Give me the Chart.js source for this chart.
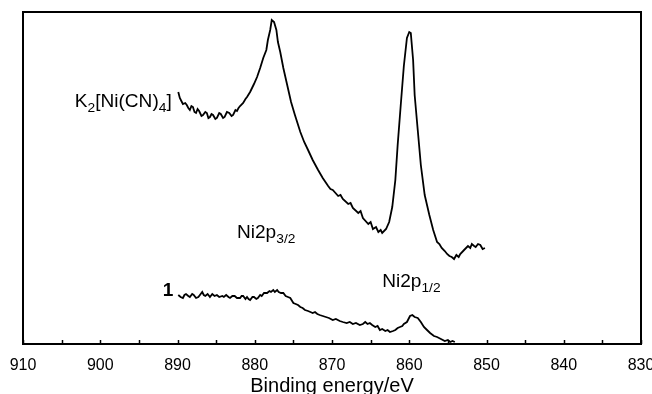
<!DOCTYPE html>
<html>
<head>
<meta charset="utf-8">
<script src="https://cdn.jsdelivr.net/npm/chart.js@4"></script>
<style>
  html, body { margin: 0; padding: 0; background: #fff; overflow: hidden; }
</style>
</head>
<body>
<canvas id="xps" width="652" height="394"></canvas>
<script>
// K2[Ni(CN)4] spectrum (binding energy eV / intensity a.u.)
const complexEnergy = [889.9, 889.7, 889.5, 889.3, 889.0, 888.8, 888.6, 888.4, 888.2, 888.0, 887.8, 887.6, 887.4, 887.2, 886.9, 886.7, 886.4, 886.2, 886.0, 885.8, 885.6, 885.4, 885.1, 884.9, 884.6, 884.4, 884.1, 883.9, 883.6, 883.3, 883.0, 882.8, 882.5, 882.3, 882.1, 881.9, 881.5, 881.2, 881.0, 880.6, 880.1, 879.7, 879.3, 878.9, 878.5, 878.3, 878.0, 877.8, 877.5, 877.2, 877.0, 876.7, 876.3, 875.8, 875.3, 874.8, 874.1, 873.6, 873.1, 872.5, 871.8, 871.5, 871.2, 870.5, 870.2, 869.9, 869.2, 868.9, 868.6, 867.9, 867.6, 867.3, 866.6, 866.3, 866.0, 865.3, 865.0, 864.7, 864.3, 864.0, 863.7, 863.5, 863.0, 862.6, 862.2, 861.8, 861.5, 861.1, 860.7, 860.3, 860.0, 859.8, 859.5, 859.3, 858.9, 858.5, 858.0, 857.4, 856.9, 856.4, 856.1, 855.8, 855.4, 855.1, 854.8, 854.5, 854.2, 853.9, 853.6, 853.4, 852.9, 852.4, 852.1, 851.9, 851.6, 851.4, 851.1, 850.8, 850.5, 850.2];
const complexCounts = [252, 246, 243, 240, 241, 239, 236, 234, 238, 237, 232, 231, 235, 233, 228, 229, 232, 231, 226, 227, 230, 229, 225, 226, 231, 230, 226, 227, 232, 231, 228, 229, 234, 233, 236, 238, 241, 245, 247, 252, 260, 267, 276, 286, 294, 304, 314, 324, 322, 314, 302, 292, 276, 259, 242, 229, 212, 202, 194, 184, 174, 170, 166, 158, 155, 154, 148, 149, 145, 140, 141, 136, 131, 133, 126, 120, 122, 115, 117, 112, 114, 111, 115, 122, 137, 164, 199, 239, 278, 306, 312, 311, 284, 249, 214, 179, 149, 129, 114, 102, 100, 96, 93, 90, 88, 87, 85, 89, 87, 90, 94, 98, 96, 100, 98, 97, 100, 99, 95, 96];

// compound 1 spectrum
const sampleEnergy = [889.9, 889.6, 889.3, 889.1, 888.9, 888.6, 888.4, 888.1, 887.9, 887.6, 887.3, 887.0, 886.8, 886.6, 886.4, 886.1, 885.8, 885.5, 885.2, 884.9, 884.6, 884.2, 884.0, 883.7, 883.4, 883.2, 882.9, 882.6, 882.3, 881.9, 881.7, 881.5, 881.2, 881.0, 880.8, 880.6, 880.3, 880.1, 879.8, 879.6, 879.3, 879.1, 878.8, 878.4, 878.1, 877.9, 877.6, 877.4, 877.1, 876.9, 876.6, 876.3, 876.0, 875.7, 875.4, 875.0, 874.7, 874.4, 874.1, 873.8, 873.5, 873.1, 872.8, 872.5, 872.2, 871.9, 871.6, 871.2, 870.8, 870.4, 869.9, 869.5, 869.0, 868.6, 868.1, 867.7, 867.3, 866.9, 866.4, 866.0, 865.7, 865.4, 865.1, 864.8, 864.4, 864.1, 863.8, 863.5, 863.1, 862.8, 862.5, 862.1, 861.8, 861.5, 861.2, 860.9, 860.7, 860.3, 859.9, 859.6, 859.3, 858.9, 858.5, 858.1, 857.7, 857.3, 856.8, 856.4, 855.9, 855.4, 855.0, 854.7, 854.4, 854.1];
const sampleCounts = [49, 47, 46, 49, 50, 48, 47, 50, 49, 46, 47, 50, 52, 49, 48, 50, 47, 50, 48, 49, 47, 48, 47, 49, 47, 46, 48, 48, 46, 46, 48, 48, 45, 47, 45, 44, 47, 47, 45, 46, 49, 48, 51, 51, 53, 52, 54, 52, 54, 52, 51, 51, 48, 47, 46, 41, 40, 39, 37, 36, 34, 33, 32, 31, 32, 30, 29, 28, 27, 26, 24, 25, 23, 22, 21, 22, 20, 21, 19, 20, 22, 20, 21, 19, 17, 18, 14, 15, 13, 14, 12, 13, 14, 16, 17, 18, 20, 22, 28, 29, 27, 26, 22, 17, 14, 11, 8, 7, 5, 3, 4, 2, 3, 2];

const xTickStep = 5;
const xMin = 830;
const xMax = 910;

// text labels: [pieces], anchor energy, anchor intensity (baseline)
const annotations = [
    { parts: [['K', 0], ['2', 1], ['[Ni(CN)', 0], ['4', 1], [']', 0]], x: 903.3, y: 237, bold: false },
    { parts: [['Ni2p', 0], ['3/2', 1]], x: 882.3, y: 106, bold: false },
    { parts: [['Ni2p', 0], ['1/2', 1]], x: 863.5, y: 57, bold: false },
    { parts: [['1', 0]], x: 891.9, y: 48, bold: true }
];

function toPoints(xs, ys) {
    return xs.map((x, i) => ({ x: x, y: ys[i] }));
}

const framePlugin = {
    id: 'frame',
    afterDraw(chart) {
        const { ctx, chartArea: a, scales } = chart;
        ctx.save();
        ctx.strokeStyle = '#000';
        ctx.lineWidth = 2;
        ctx.strokeRect(a.left, a.top, a.right - a.left, a.bottom - a.top);
        // inward tick marks
        ctx.lineWidth = 1.5;
        scales.x.ticks.forEach(t => {
            const px = Math.round(scales.x.getPixelForValue(t.value)) + 0.5;
            ctx.beginPath();
            ctx.moveTo(px, a.bottom);
            ctx.lineTo(px, a.bottom - 4);
            ctx.stroke();
        });
        // annotations
        ctx.fillStyle = '#000';
        ctx.textBaseline = 'alphabetic';
        annotations.forEach(an => {
            let px = scales.x.getPixelForValue(an.x);
            const py = scales.y.getPixelForValue(an.y);
            an.parts.forEach(([txt, sub]) => {
                const size = sub ? 13 : 18;
                ctx.font = (an.bold ? 'bold ' : '') + size + 'px "Liberation Sans", Arial, sans-serif';
                ctx.save();
                ctx.translate(px, py + (sub ? 5 : 0));
                ctx.scale(1.06, 1);
                ctx.fillText(txt, 0, 0);
                ctx.restore();
                px += ctx.measureText(txt).width * 1.06;
            });
        });
        ctx.restore();
    }
};

new Chart(document.getElementById('xps'), {
    type: 'line',
    data: {
        datasets: [
            { label: 'K2[Ni(CN)4]', data: toPoints(complexEnergy, complexCounts), borderColor: '#000', borderWidth: 1.8, pointRadius: 0, tension: 0 },
            { label: '1', data: toPoints(sampleEnergy, sampleCounts), borderColor: '#000', borderWidth: 1.8, pointRadius: 0, tension: 0 }
        ]
    },
    options: {
        responsive: false,
        animation: false,
        layout: { padding: { left: 23, right: 11, top: 12, bottom: 0 } },
        plugins: { legend: { display: false }, tooltip: { enabled: false } },
        scales: {
            x: {
                type: 'linear',
                min: xMin,
                max: xMax,
                reverse: true,
                afterFit: scale => {
                    scale.height = 50;
                    scale.paddingLeft = 0;
                    scale.paddingRight = 0;
                },
                grid: { display: false, drawTicks: false },
                border: { display: false },
                ticks: {
                    stepSize: xTickStep,
                    autoSkip: false,
                    maxRotation: 0,
                    padding: 12,
                    color: '#000',
                    font: { family: '"Liberation Sans", Arial, sans-serif', size: 16 },
                    callback: v => (v % 10 === 0 ? v : '')
                },
                title: {
                    display: true,
                    text: 'Binding energy/eV',
                    color: '#000',
                    font: { family: '"Liberation Sans", Arial, sans-serif', size: 20, lineHeight: 1 },
                    padding: { top: 0, bottom: -2 }
                }
            },
            y: {
                display: false,
                min: 0,
                max: 332
            }
        }
    },
    plugins: [framePlugin]
});
</script>
</body>
</html>
